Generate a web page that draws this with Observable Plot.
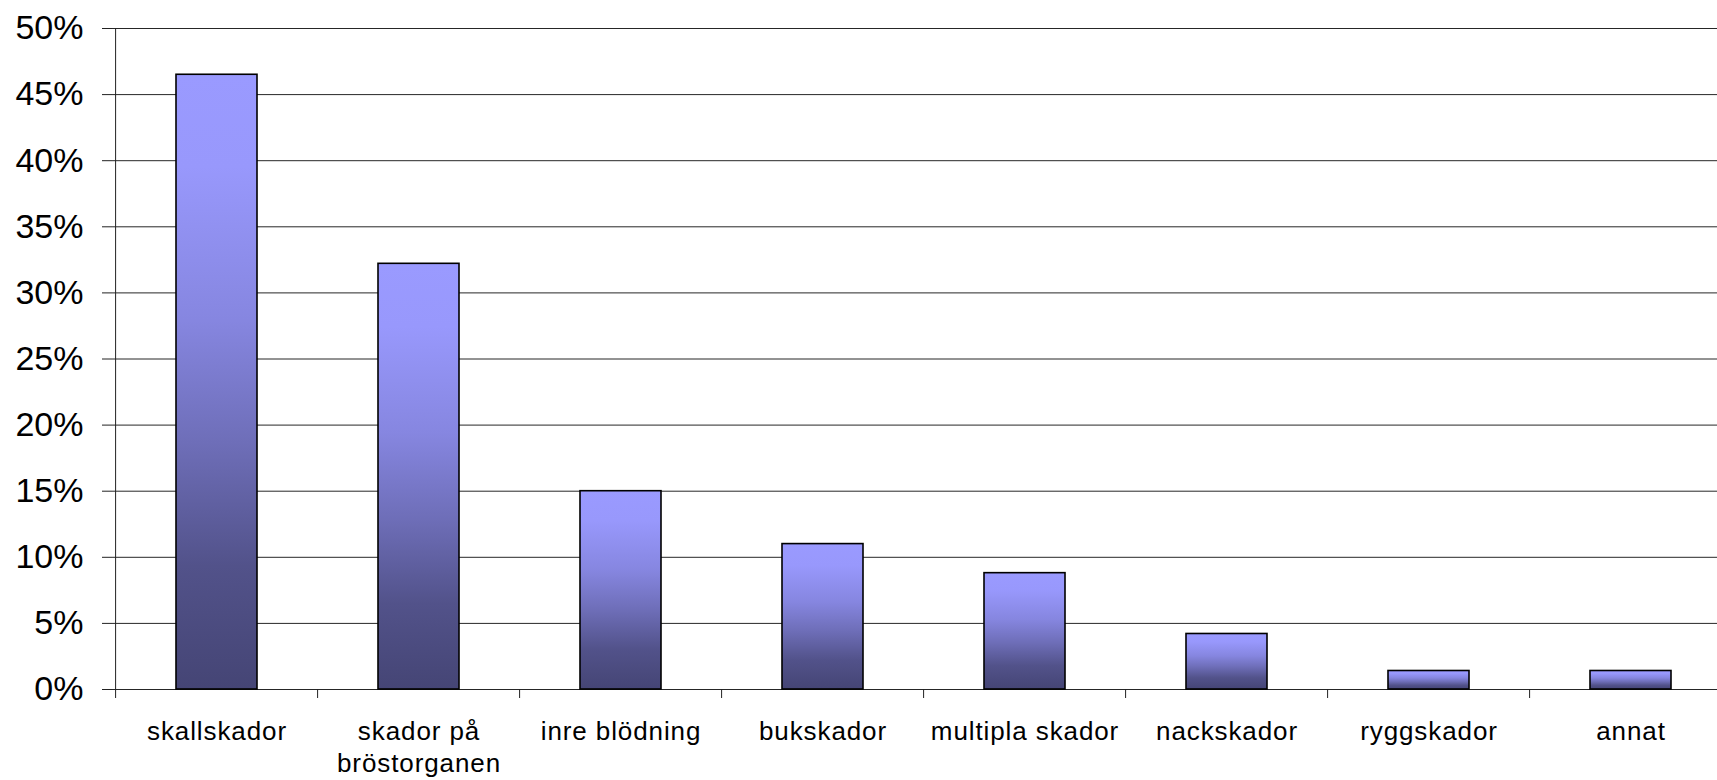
<!DOCTYPE html>
<html>
<head>
<meta charset="utf-8">
<script src="https://cdn.jsdelivr.net/npm/d3@7"></script>
<script src="https://cdn.jsdelivr.net/npm/@observablehq/plot@0.6"></script>
<style>
  html, body { margin: 0; padding: 0; background: #fff; }
  #chart svg { display: block; }
  #chart svg g.xlabels text { letter-spacing: 0.9px; }
</style>
</head>
<body>
<div id="chart"></div>
<script>
const categories = ["skallskador", "skador på bröstorganen", "inre blödning", "bukskador", "multipla skador", "nackskador", "ryggskador", "annat"];
const categoryLabels = ["skallskador", "skador på\nbröstorganen", "inre blödning", "bukskador", "multipla skador", "nackskador", "ryggskador", "annat"];
const values = [46.5, 32.2, 15.0, 11.0, 8.8, 4.2, 1.4, 1.4];
const yTicks = [0, 5, 10, 15, 20, 25, 30, 35, 40, 45, 50];

const data = categories.map((c, i) => ({category: c, value: values[i]}));
const labelOf = new Map(categories.map((c, i) => [c, categoryLabels[i]]));

const W = 1717, H = 780;
const xRange = [112.5, 1735];
const step = (xRange[1] - xRange[0]) / categories.length;

const gradient = () => {
  const defs = d3.create("svg:defs");
  const g = defs.append("linearGradient")
    .attr("id", "barGrad")
    .attr("x1", 0).attr("y1", 0).attr("x2", 0).attr("y2", 1);
  [[0, "#9a9aff"], [0.15, "#9898fc"], [0.4, "#8686e0"], [0.6, "#6e6eb8"], [0.8, "#52528a"], [1, "#454575"]]
    .forEach(([o, c]) => g.append("stop").attr("offset", o).attr("stop-color", c));
  return defs.node();
};

const chart = Plot.plot({
  width: W,
  height: H,
  marginLeft: 112,
  marginRight: 0,
  marginTop: 28,
  marginBottom: 91,
  style: {fontFamily: "'Liberation Sans', Arial, sans-serif", background: "#fff", color: "#000"},
  x: {domain: categories, range: xRange, paddingInner: 0.6, paddingOuter: 0.3, label: null},
  y: {domain: [0, 50], label: null},
  marks: [
    gradient,
    Plot.ruleY(yTicks, {stroke: "#000", strokeWidth: 1, strokeOpacity: 0.85}),
    Plot.barY(data, {x: "category", y: "value", fill: "url(#barGrad)", stroke: "#000", strokeWidth: 1.6}),
    Plot.ruleX([categories[0]], {dx: -step / 2, stroke: "#222", strokeWidth: 1}),
    Plot.axisY({ticks: yTicks, tickSize: 10, tickPadding: 19, fontSize: 34, tickFormat: d => d + "%", stroke: "#222"}),
    Plot.axisX({ticks: categories, tickSize: 9, dx: -step / 2, tickFormat: () => "", stroke: "#222"}),
    Plot.axisX({ticks: categories, tickSize: 0, tickPadding: 28, fontSize: 26, lineHeight: 1.23, tickFormat: d => labelOf.get(d)})
  ]
});

chart.querySelectorAll('g[aria-label="x-axis tick label"]').forEach(g => g.classList.add("xlabels"));
document.getElementById("chart").appendChild(chart);
</script>
</body>
</html>
